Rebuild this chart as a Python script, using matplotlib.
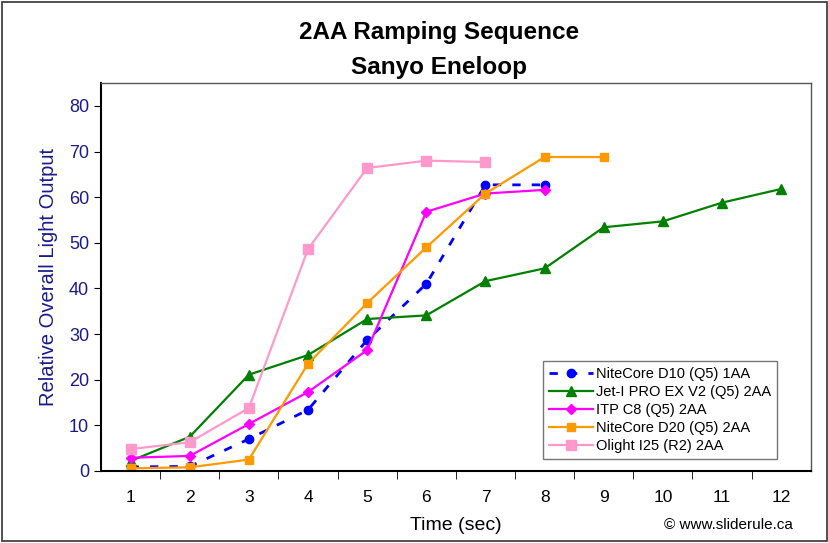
import matplotlib
matplotlib.use("Agg")
import matplotlib.pyplot as plt

plt.rcParams['font.family'] = ['Liberation Sans', 'DejaVu Sans']

times = [1, 2, 3, 4, 5, 6, 7, 8, 9, 10, 11, 12]
d10 = [0.9, 1.0, 7.0, 13.4, 28.7, 41.0, 62.7, 62.7]
jeti = [2.2, 7.5, 21.1, 25.4, 33.3, 34.1, 41.6, 44.4, 53.4, 54.7, 58.8, 61.8]
itp_c8 = [2.9, 3.3, 10.3, 17.3, 26.5, 56.8, 60.8, 61.6]
d20 = [0.6, 0.8, 2.5, 23.5, 36.8, 49.0, 60.8, 68.8, 68.8]
olight = [4.8, 6.3, 13.8, 48.6, 66.4, 68.0, 67.7]
y_ticks = [0, 10, 20, 30, 40, 50, 60, 70, 80]

fig = plt.figure(figsize=(8.29, 5.43), dpi=100)
ax = fig.add_axes([0.1218, 0.1326, 0.8562, 0.7144])

ax.plot(times[:len(d10)], d10, color='blue', linestyle=(0, (3, 4)), lw=2,
        marker='o', ms=6, label='NiteCore D10 (Q5) 1AA')
ax.plot(times[:len(jeti)], jeti, color='green', lw=1.6,
        marker='^', ms=7, label='Jet-I PRO EX V2 (Q5) 2AA')
ax.plot(times[:len(itp_c8)], itp_c8, color='magenta', lw=1.6,
        marker='D', ms=5, label='ITP C8 (Q5) 2AA')
ax.plot(times[:len(d20)], d20, color='#ff9900', lw=1.6,
        marker='s', ms=6, label='NiteCore D20 (Q5) 2AA')
ax.plot(times[:len(olight)], olight, color='#ff99cc', lw=1.6,
        marker='s', ms=7, label='Olight I25 (R2) 2AA')

ax.set_xlim(0.5, 12.5)
ax.set_ylim(0, 85)
ax.set_xticks(times)
ax.set_xticks([t + 0.5 for t in times[:-1]], minor=True)
ax.tick_params(axis='x', which='major', length=0, labelsize=12.5, pad=14)
ax.tick_params(axis='x', which='minor', length=6, direction='out')
ax.set_yticks(y_ticks)
ax.tick_params(axis='y', labelsize=13, labelcolor='#1a1a8c', length=5, direction='out')
for s in ax.spines.values():
    s.set_color('#555555')
    s.set_linewidth(1)
for side in ('bottom', 'left'):
    ax.spines[side].set_color('black')
    ax.spines[side].set_linewidth(1.5)

ax.set_xlabel('Time (sec)', fontsize=14, labelpad=8)
ax.set_ylabel('Relative Overall Light Output', fontsize=14.5, color='#1a1a8c', labelpad=8)

fig.text(0.53, 0.940, '2AA Ramping Sequence', ha='center', va='center',
         fontsize=17.5, fontweight='bold')
fig.text(0.53, 0.875, 'Sanyo Eneloop', ha='center', va='center',
         fontsize=17.5, fontweight='bold')
fig.text(0.957, 0.033, '© www.sliderule.ca', ha='right', va='center', fontsize=11)

leg = ax.legend(loc='lower right', bbox_to_anchor=(0.952, 0.031), fontsize=10.5,
                frameon=True, fancybox=False, handlelength=3.0,
                borderpad=0.4, labelspacing=0.28, handletextpad=0.2,
                borderaxespad=0)
leg.get_frame().set_edgecolor('#555555')
leg.get_frame().set_linewidth(1)

fig.patches.append(plt.Rectangle((0.002, 0.003), 0.995, 0.994, transform=fig.transFigure,
                                 fill=False, edgecolor='#333333', lw=1.2))

fig.savefig('out.png', dpi=100)
